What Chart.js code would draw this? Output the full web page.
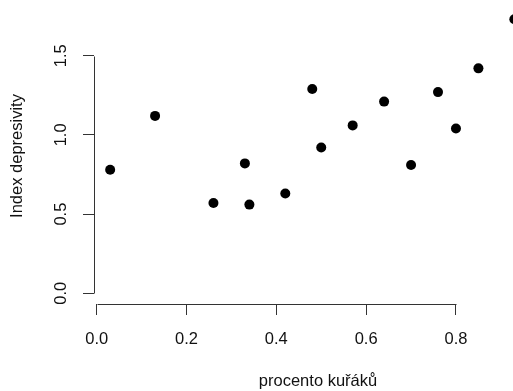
<!DOCTYPE html>
<html>
<head>
<meta charset="utf-8">
<script src="https://cdn.jsdelivr.net/npm/chart.js@4.4.1/dist/chart.umd.min.js"></script>
<style>
    html, body { margin: 0; padding: 0; background: #fff; overflow: hidden; }
    #wrap { width: 600px; height: 391px; }
</style>
</head>
<body>
<div id="wrap"><canvas id="plot" width="600" height="391"></canvas></div>
<script>
// data
const smokers = [0.03, 0.13, 0.26, 0.33, 0.34, 0.42, 0.48, 0.50, 0.57, 0.64, 0.70, 0.76, 0.80, 0.85, 0.93];
const depression = [0.78, 1.12, 0.57, 0.82, 0.56, 0.63, 1.29, 0.92, 1.06, 1.21, 0.81, 1.27, 1.04, 1.42, 1.73];
const xTicks = [0.0, 0.2, 0.4, 0.6, 0.8];
const yTicks = [0.0, 0.5, 1.0, 1.5];

const axisColor = '#333';
const textColor = '#111';
const font = { family: 'Liberation Sans, Arial, sans-serif', size: 16.5 };

// R-style axis line: only spans from first to last tick
const rAxisLines = {
    id: 'rAxisLines',
    afterDraw(chart) {
        const { ctx, chartArea, scales } = chart;
        ctx.save();
        ctx.strokeStyle = axisColor;
        ctx.lineWidth = 1;
        ctx.beginPath();
        const x0 = scales.x.getPixelForValue(xTicks[0]);
        const x1 = scales.x.getPixelForValue(xTicks[xTicks.length - 1]);
        const yb = Math.round(chartArea.bottom) + 0.5;
        ctx.moveTo(Math.round(x0) + 0.5, yb);
        ctx.lineTo(Math.round(x1) + 0.5, yb);
        const y0 = scales.y.getPixelForValue(yTicks[0]);
        const y1 = scales.y.getPixelForValue(yTicks[yTicks.length - 1]);
        const xl = Math.round(chartArea.left) + 0.5;
        ctx.moveTo(xl, Math.round(y0) + 0.5);
        ctx.lineTo(xl, Math.round(y1) + 0.5);
        ctx.stroke();
        ctx.restore();
    }
};

const points = smokers.map((x, i) => ({ x: x, y: depression[i] }));

new Chart(document.getElementById('plot'), {
    type: 'scatter',
    data: {
        datasets: [{
            data: points,
            backgroundColor: '#000',
            borderWidth: 0,
            pointRadius: 5,
            pointHoverRadius: 5,
            clip: false
        }]
    },
    options: {
        responsive: false,
        animation: false,
        layout: { padding: { left: 0, right: 58, top: 8, bottom: 0 } },
        plugins: { legend: { display: false }, tooltip: { enabled: false } },
        scales: {
            x: {
                type: 'linear',
                min: -0.006,
                max: 0.9916,
                afterBuildTicks: axis => { axis.ticks = xTicks.map(v => ({ value: v })); },
                afterFit: axis => { axis.height = 87; axis.paddingLeft = 0; axis.paddingRight = 0; },
                border: { display: false },
                grid: { drawOnChartArea: false, drawTicks: true, tickLength: 11, color: axisColor, lineWidth: 1 },
                ticks: { color: textColor, font: font, padding: 15, maxRotation: 0, callback: v => v.toFixed(1) },
                title: { display: true, text: 'procento kuřáků', color: textColor, font: font, padding: { top: 4, bottom: 0 } }
            },
            y: {
                type: 'linear',
                min: -0.0675,
                max: 1.801,
                afterBuildTicks: axis => { axis.ticks = yTicks.map(v => ({ value: v })); },
                afterFit: axis => { axis.width = 94; axis.paddingTop = 0; axis.paddingBottom = 0; },
                border: { display: false },
                grid: { drawOnChartArea: false, drawTicks: true, tickLength: 11, color: axisColor, lineWidth: 1 },
                ticks: { color: textColor, font: font, padding: 10, minRotation: 90, maxRotation: 90, crossAlign: 'center', callback: v => v.toFixed(1) },
                title: { display: true, text: 'Index depresivity', color: textColor, font: font, padding: { top: 8, bottom: 0 } }
            }
        }
    },
    plugins: [rAxisLines]
});
</script>
</body>
</html>
